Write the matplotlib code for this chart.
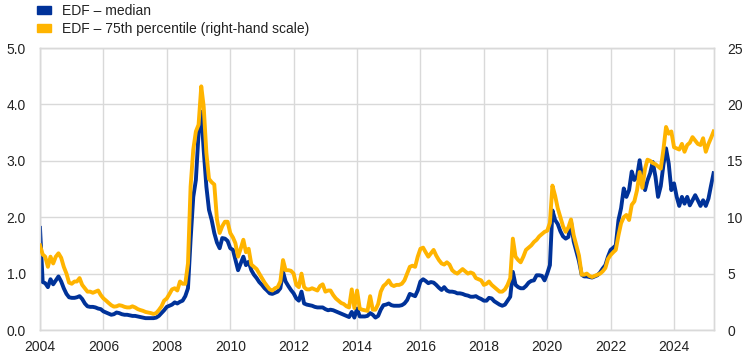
import numpy as np
import pandas as pd
import matplotlib
matplotlib.use('Agg')
import matplotlib.pyplot as plt
import matplotlib.dates as mdates
from matplotlib.patches import Patch

plt.rcParams['font.family'] = ['Liberation Sans', 'DejaVu Sans']

# EDF median (left-hand scale), monthly from Jan 2004
median = (
    [1.81, 0.85, 0.83, 0.76, 0.90, 0.81, 0.88, 0.95, 0.86, 0.74, 0.64, 0.58]    # 2004
    + [0.57, 0.57, 0.58, 0.60, 0.55, 0.47, 0.42, 0.41, 0.41, 0.40, 0.38, 0.37]  # 2005
    + [0.33, 0.31, 0.29, 0.27, 0.28, 0.31, 0.30, 0.28, 0.27, 0.27, 0.26, 0.25]  # 2006
    + [0.25, 0.24, 0.23, 0.22, 0.21, 0.21, 0.21, 0.21, 0.22, 0.25, 0.30, 0.35]  # 2007
    + [0.41, 0.43, 0.45, 0.49, 0.47, 0.50, 0.52, 0.60, 0.74, 1.60, 2.36, 2.66]  # 2008
    + [3.49, 3.87, 3.19, 2.54, 2.13, 1.95, 1.72, 1.55, 1.45, 1.63, 1.62, 1.58]  # 2009
    + [1.45, 1.42, 1.25, 1.06, 1.18, 1.30, 1.15, 1.21, 1.06, 0.98, 0.92, 0.85]  # 2010
    + [0.80, 0.74, 0.70, 0.65, 0.64, 0.66, 0.68, 0.74, 1.03, 0.86, 0.78, 0.71]  # 2011
    + [0.65, 0.56, 0.52, 0.68, 0.47, 0.45, 0.44, 0.43, 0.41, 0.40, 0.40, 0.40]  # 2012
    + [0.37, 0.35, 0.36, 0.35, 0.33, 0.31, 0.29, 0.27, 0.25, 0.23, 0.32, 0.22]  # 2013
    + [0.38, 0.24, 0.24, 0.24, 0.25, 0.30, 0.27, 0.22, 0.25, 0.36, 0.44, 0.45]  # 2014
    + [0.47, 0.44, 0.43, 0.43, 0.43, 0.44, 0.47, 0.53, 0.64, 0.62, 0.60, 0.70]  # 2015
    + [0.86, 0.90, 0.87, 0.83, 0.85, 0.84, 0.80, 0.75, 0.71, 0.76, 0.70, 0.68]  # 2016
    + [0.68, 0.67, 0.65, 0.65, 0.64, 0.62, 0.61, 0.59, 0.59, 0.60, 0.57, 0.55]  # 2017
    + [0.52, 0.52, 0.57, 0.56, 0.51, 0.48, 0.45, 0.43, 0.45, 0.52, 0.59, 1.03]  # 2018
    + [0.80, 0.76, 0.74, 0.74, 0.78, 0.84, 0.87, 0.88, 0.97, 0.97, 0.96, 0.88]  # 2019
    + [1.00, 1.15, 2.12, 1.95, 1.88, 1.75, 1.66, 1.62, 1.65, 1.92, 1.57, 1.40]  # 2020
    + [1.22, 0.98, 0.95, 0.95, 0.94, 0.93, 0.95, 0.97, 1.02, 1.09, 1.15, 1.30]  # 2021
    + [1.42, 1.46, 1.50, 1.95, 2.16, 2.51, 2.36, 2.48, 2.81, 2.66, 2.72, 3.01]  # 2022
    + [2.66, 2.48, 2.65, 2.78, 2.98, 2.72, 2.36, 2.55, 2.93, 3.22, 2.95, 2.48]  # 2023
    + [2.60, 2.36, 2.20, 2.36, 2.24, 2.36, 2.21, 2.30, 2.39, 2.30, 2.20, 2.30]  # 2024
    + [2.20, 2.33, 2.55, 2.78]                                                  # 2025
)

# EDF 75th percentile (right-hand scale)
p75 = (
    [7.5, 6.7, 6.5, 5.6, 6.5, 5.9, 6.5, 6.8, 6.4, 5.6, 5.0, 4.2]             # 2004
    + [4.1, 4.3, 4.3, 4.6, 4.0, 3.7, 3.4, 3.4, 3.3, 3.4, 3.5, 3.1]          # 2005
    + [2.8, 2.6, 2.4, 2.2, 2.07, 2.1, 2.2, 2.15, 2.05, 2.0, 2.0, 2.1]       # 2006
    + [2.0, 1.85, 1.77, 1.7, 1.6, 1.55, 1.5, 1.42, 1.5, 1.77, 2.1, 2.6]     # 2007
    + [2.8, 3.2, 3.6, 3.7, 3.5, 4.3, 4.1, 4.1, 5.9, 12.7, 16.0, 17.6]       # 2008
    + [18.2, 21.6, 19.8, 15.7, 13.4, 13.1, 12.9, 9.8, 8.6, 9.2, 9.6, 9.6]   # 2009
    + [8.6, 8.2, 7.7, 6.5, 7.2, 8.0, 6.9, 7.2, 5.8, 5.6, 5.4, 5.0]          # 2010
    + [4.6, 4.2, 3.9, 3.6, 3.5, 3.7, 3.8, 4.3, 6.2, 5.3, 5.3, 5.25]         # 2011
    + [5.0, 4.0, 3.8, 5.0, 3.8, 3.6, 3.6, 3.7, 3.6, 3.5, 3.9, 4.05]         # 2012
    + [3.4, 3.5, 3.5, 3.1, 2.8, 2.6, 2.4, 2.3, 2.1, 2.0, 3.6, 1.95]         # 2013
    + [3.5, 1.9, 1.8, 1.75, 1.7, 3.0, 1.8, 1.8, 2.3, 3.4, 3.9, 4.1]         # 2014
    + [4.4, 4.0, 3.9, 4.0, 4.0, 4.1, 4.4, 5.0, 5.6, 5.7, 5.6, 6.5]          # 2015
    + [7.2, 7.3, 6.9, 6.5, 6.8, 7.1, 6.6, 6.2, 5.9, 5.8, 6.0, 5.8]          # 2016
    + [5.3, 5.1, 5.0, 5.2, 5.4, 5.2, 5.0, 5.1, 5.0, 4.6, 4.5, 4.4]          # 2017
    + [4.0, 4.1, 4.3, 4.0, 3.8, 3.6, 3.4, 3.4, 3.6, 4.0, 4.6, 8.1]          # 2018
    + [6.5, 6.2, 6.0, 6.5, 7.1, 7.3, 7.5, 7.8, 8.0, 8.3, 8.5, 8.7]          # 2019
    + [8.8, 9.5, 12.8, 11.9, 10.8, 10.0, 9.2, 8.7, 9.1, 9.8, 8.4, 7.5]      # 2020
    + [6.6, 4.9, 4.9, 5.0, 4.8, 4.7, 4.8, 4.9, 5.0, 5.2, 5.5, 6.3]          # 2021
    + [6.65, 6.9, 7.1, 8.4, 9.46, 10.0, 10.2, 9.75, 11.1, 11.4, 12.4, 14.0] # 2022
    + [12.6, 14.3, 15.1, 15.0, 14.8, 14.7, 14.5, 14.3, 16.0, 18.0, 17.4, 17.6]  # 2023
    + [16.2, 16.1, 16.0, 16.5, 15.8, 16.4, 16.6, 17.1, 16.8, 16.5, 16.4, 17.0]  # 2024
    + [15.8, 16.5, 17.0, 17.6]                                               # 2025
)

dates = pd.date_range('2004-01-01', periods=len(median), freq='MS')
year_ticks = list(range(2004, 2025, 2))
left_ticks = [0.0, 1.0, 2.0, 3.0, 4.0, 5.0]
right_ticks = [0, 5, 10, 15, 20, 25]

blue = '#003299'
yellow = '#FFB400'
grid_col = '#d9d9d9'
txt_col = '#222222'

fig = plt.figure(figsize=(7.42, 3.55), dpi=100)
ax = fig.add_axes([40 / 742, 1 - 330 / 355, (713.6 - 40) / 742, (330 - 48) / 355])
ax2 = ax.twinx()

ax.plot(dates, median, color=blue, lw=2.8, solid_joinstyle='round', zorder=3)
ax2.plot(dates, p75, color=yellow, lw=2.8, solid_joinstyle='round', zorder=3)

ax.set_xlim(pd.Timestamp('2004-01-01'), dates[-1])
ax.set_ylim(0, 5)
ax2.set_ylim(0, 25)
ax.set_yticks(left_ticks)
ax.set_yticklabels([f'{v:.1f}' for v in left_ticks])
ax2.set_yticks(right_ticks)
ax2.set_yticklabels([str(v) for v in right_ticks])
ax.set_xticks([pd.Timestamp(f'{y}-01-01') for y in year_ticks])
ax.xaxis.set_major_formatter(mdates.DateFormatter('%Y'))

ax.grid(True, color=grid_col, lw=1.0)
ax.set_axisbelow(True)
for a in (ax, ax2):
    for s in a.spines.values():
        s.set_color(grid_col)
        s.set_linewidth(1.0)
    a.tick_params(length=0, labelsize=10, colors=txt_col)
ax.tick_params(axis='x', pad=7)
ax.tick_params(axis='y', pad=10)
ax2.tick_params(axis='y', pad=10)

handles = [Patch(color=blue), Patch(color=yellow)]
labels = ['EDF \u2013 median', 'EDF \u2013 75th percentile (right-hand scale)']
fig.legend(handles, labels, loc='upper left', bbox_to_anchor=(37 / 742, 1 - 4 / 355),
           frameon=False, fontsize=10, borderpad=0, borderaxespad=0,
           handlelength=1.0, handleheight=0.45, handletextpad=0.8,
           labelspacing=0.3, labelcolor=txt_col)

fig.savefig('out.png', dpi=100)
